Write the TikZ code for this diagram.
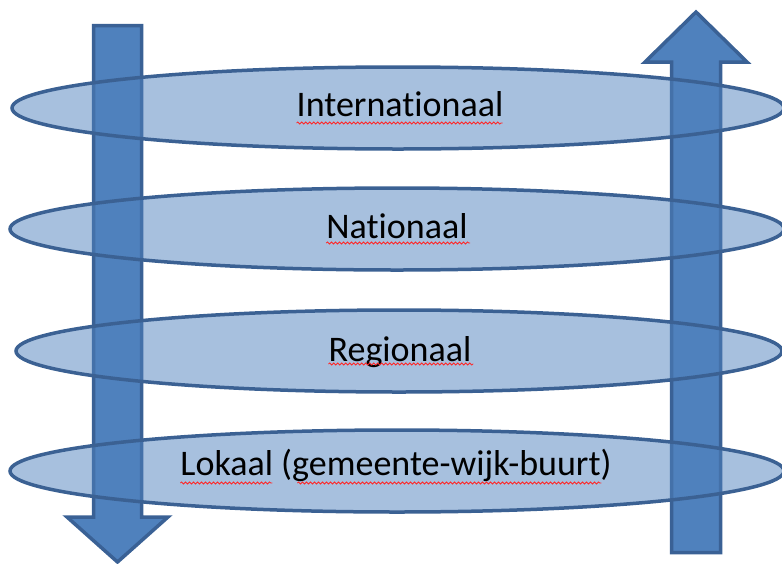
\documentclass[tikz,border=0pt]{standalone}
\usepackage{fontspec}
\setmainfont{Carlito}[Ligatures={NoCommon}]
\usetikzlibrary{shapes.geometric,decorations.pathmorphing}
\definecolor{arrowfill}{HTML}{4F81BD}
\definecolor{arrowline}{HTML}{3A6195}
\definecolor{ringline}{HTML}{3B6193}
\tikzset{
  bigarrow/.style={fill=arrowfill, draw=arrowline, line width=3.5pt, line join=miter},
  ring/.style={ellipse, draw=ringline, line width=3.5pt, fill=arrowfill, fill opacity=0.5, draw opacity=1, inner sep=0pt},
  label/.style={anchor=base, font=\fontsize{36}{40}\selectfont, text=black, inner sep=0pt},
  spell/.style={draw=red!85!white, line width=0.8pt, decorate, decoration={snake, segment length=4pt, amplitude=1pt}}
}
\begin{document}
\begin{tikzpicture}[x=1pt,y=-1pt]
\useasboundingbox (0,0) rectangle (782,563);
% down arrow (left)
\draw[bigarrow] (93.5,25.5) -- (141.5,25.5) -- (141.5,517) -- (168,517) -- (117.5,562) -- (67,517) -- (93.5,517) -- cycle;
% up arrow (right)
\draw[bigarrow] (671.5,552.5) -- (720.5,552.5) -- (720.5,62) -- (747,62) -- (696,12) -- (645,62) -- (671.5,62) -- cycle;
% rings
\node[ring, minimum width=772pt, minimum height=82pt] (e1) at (398,108) {};
\node[ring, minimum width=774pt, minimum height=82pt] (e2) at (397,229) {};
\node[ring, minimum width=766pt, minimum height=82pt] (e3) at (399,351) {};
\node[ring, minimum width=774pt, minimum height=82pt] (e4) at (397,471) {};
% labels
\node[label] (t1) at (400,116) {Internationaal};
\node[label] (t2) at (397,238) {Nationaal};
\node[label] (t3) at (400,361) {Regionaal};
\node[label] (t4) at (396,475) {Lokaal (gemeente-wijk-buurt)};
% spelling underlines
\draw[spell] (t1.base west) ++(0,7) -- ++(206,0);
\draw[spell] (t2.base west) ++(0,5) -- ++(144,0);
\draw[spell] (t3.base west) ++(0,3) -- ++(145,0);
\draw[spell] (t4.base west) ++(0,8) -- ++(92,0);
\draw[spell] (t4.base west) ++(117,8) -- ++(304,0);
\end{tikzpicture}
\end{document}
